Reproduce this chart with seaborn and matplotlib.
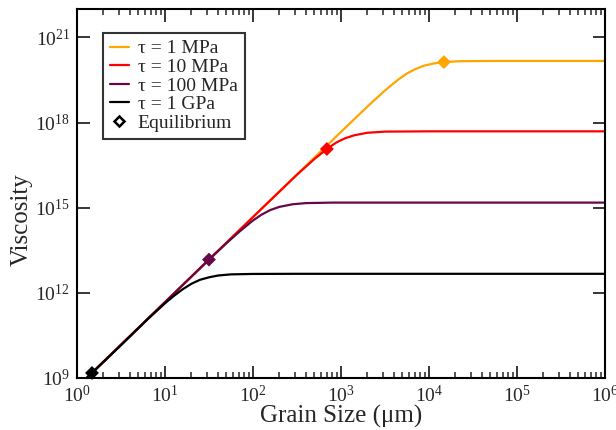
import matplotlib
matplotlib.use("Agg")
import matplotlib.pyplot as plt
from matplotlib.lines import Line2D
from matplotlib.ticker import LogLocator, NullLocator, LogFormatterSciNotation
import seaborn as sns
import pandas as pd

# grain size (um) and viscosity, one pair of lists per stress
size_1gpa = [1, 3.2, 6.3, 10, 12.6, 15.8, 20, 25, 32, 40, 56, 100, 316, 1e6]
visc_1gpa = [4.68e8, 1.48e10, 1.15e11, 4.27e11, 7.76e11, 1.32e12, 2.09e12, 2.88e12,
             3.55e12, 4.07e12, 4.47e12, 4.63e12, 4.68e12, 4.68e12]

size_100mpa = [1, 10, 31.6, 50, 71, 100, 126, 158, 200, 282, 398, 794, 1e6]
visc_100mpa = [4.68e8, 4.68e11, 1.48e13, 5.62e13, 1.48e14, 3.55e14, 5.75e14, 8.32e14,
               1.07e15, 1.32e15, 1.45e15, 1.51e15, 1.51e15]

size_10mpa = [1, 10, 100, 316, 501, 692, 891, 1122, 1413, 1995, 3162, 1e4, 1e6]
visc_10mpa = [4.68e8, 4.68e11, 4.68e14, 1.45e16, 5.25e16, 1.17e17, 2.0e17, 2.82e17,
              3.55e17, 4.37e17, 4.79e17, 4.9e17, 4.9e17]

size_1mpa = [1, 10, 100, 1000, 1995, 3162, 4467, 5623, 7079, 8913, 11220, 14791,
             22387, 50119, 1e6]
visc_1mpa = [4.68e8, 4.68e11, 4.68e14, 4.68e17, 3.63e18, 1.35e19, 3.24e19, 5.37e19,
             7.76e19, 1.02e20, 1.20e20, 1.35e20, 1.45e20, 1.48e20, 1.48e20]

# equilibrium points (one per curve)
eq_labels = ["τ = 1 GPa", "τ = 100 MPa", "τ = 10 MPa", "τ = 1 MPa"]
eq_size = [1.48, 31.6, 692, 1.48e4]
eq_visc = [1.5e9, 1.48e13, 1.17e17, 1.35e20]

labels = ["τ = 1 MPa", "τ = 10 MPa", "τ = 100 MPa", "τ = 1 GPa"]
colors = ["#FFA500", "#FF0000", "#670748", "#000000"]

curves = {
    "τ = 1 MPa": (size_1mpa, visc_1mpa),
    "τ = 10 MPa": (size_10mpa, visc_10mpa),
    "τ = 100 MPa": (size_100mpa, visc_100mpa),
    "τ = 1 GPa": (size_1gpa, visc_1gpa),
}
frames = []
for lab, (xs, ys) in curves.items():
    frames.append(pd.DataFrame({"size": xs, "visc": ys, "stress": lab}))
df = pd.concat(frames, ignore_index=True)
df_eq = pd.DataFrame({"size": eq_size, "visc": eq_visc, "stress": eq_labels})

sns.set_style("ticks")
plt.rcParams["font.family"] = ["Liberation Serif", "DejaVu Serif"]
plt.rcParams["mathtext.fontset"] = "stix"

palette = dict(zip(labels, colors))

fig = plt.figure(figsize=(6.16, 4.30), dpi=100)
ax = fig.add_axes([0.125, 0.121, 0.857, 0.858])
ax.set_xscale("log")
ax.set_yscale("log")

sns.lineplot(data=df, x="size", y="visc", hue="stress", hue_order=labels,
             palette=palette, linewidth=1.6, sort=False, estimator=None,
             legend=False, ax=ax)
sns.scatterplot(data=df_eq, x="size", y="visc", hue="stress", hue_order=labels,
                palette=palette, marker="D", s=50, linewidth=0, legend=False,
                ax=ax, zorder=5, clip_on=False)

ax.set_xlim(1, 1e6)
ax.set_ylim(1e9, 1e22)
ax.set_yticks([1e9, 1e12, 1e15, 1e18, 1e21])
ax.yaxis.set_minor_locator(NullLocator())
ax.yaxis.set_major_formatter(LogFormatterSciNotation())
ax.xaxis.set_major_locator(LogLocator(base=10, numticks=10))
ax.xaxis.set_minor_locator(LogLocator(base=10, subs=range(2, 10), numticks=20))

ax.tick_params(which="major", direction="in", length=9, width=1.3,
               top=True, right=True, labelsize=14, pad=5)
ax.tick_params(which="minor", direction="in", length=4.5, width=1.1,
               top=True, right=True)
for sp in ax.spines.values():
    sp.set_linewidth(1.5)
    sp.set_color("black")

ax.set_xlabel("Grain Size (μm)", fontsize=18, labelpad=-1)
ax.set_ylabel("Viscosity", fontsize=18)
ax.yaxis.set_label_coords(-0.083, 0.43)

handles = [Line2D([], [], color=c, lw=1.6) for c in colors]
handles.append(Line2D([], [], ls="none", marker="D", markersize=5,
                      markerfacecolor="white", markeredgecolor="black",
                      markeredgewidth=1.8))
leg = ax.legend(handles, labels + ["Equilibrium"], loc="upper left",
                bbox_to_anchor=(0.049, 0.935), fontsize=14, frameon=True,
                fancybox=False, handlelength=1.0, handletextpad=0.45,
                borderpad=0.35, labelspacing=0.05, borderaxespad=0)
leg.get_frame().set_edgecolor("black")
leg.get_frame().set_linewidth(1.5)

fig.savefig("out.png", dpi=100)
